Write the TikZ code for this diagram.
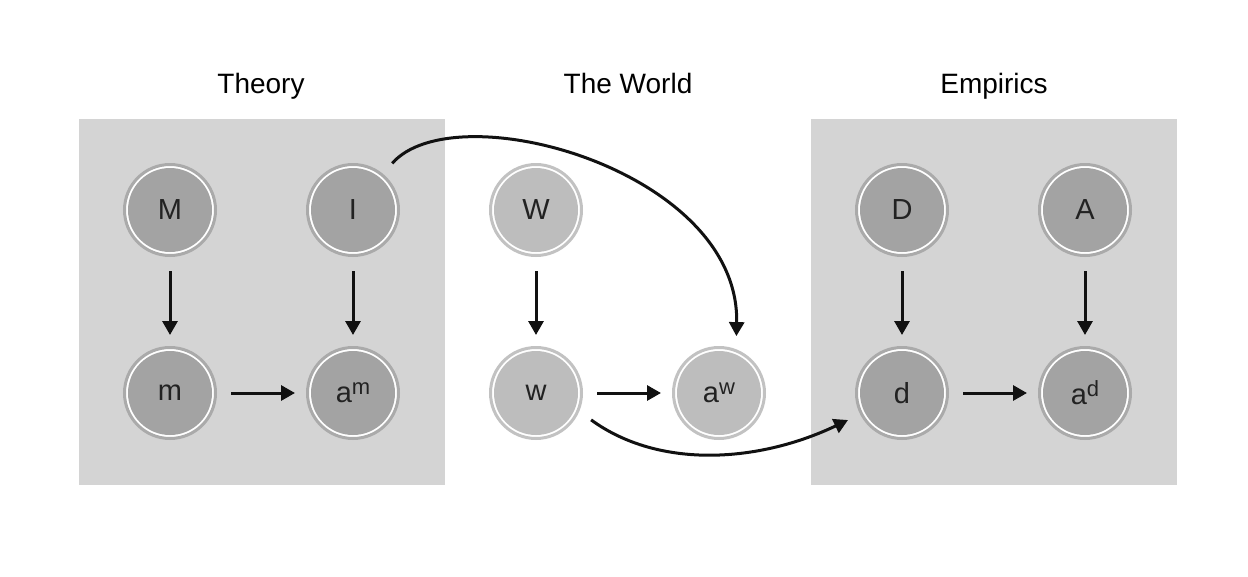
\documentclass[tikz,border=0pt]{standalone}
\usepackage{fontspec}
\setmainfont{Liberation Sans}
\usetikzlibrary{arrows.meta,calc}
\definecolor{boxgray}{HTML}{D4D4D4}
\definecolor{darkfill}{HTML}{A3A3A3}
\definecolor{darkring}{HTML}{AAAAAA}
\definecolor{lightfill}{HTML}{BDBDBD}
\definecolor{lightring}{HTML}{C2C2C2}
\definecolor{txt}{HTML}{222222}
\definecolor{arr}{HTML}{111111}
\newcommand{\supx}[1]{\raisebox{8pt}{\fontsize{22}{22}\selectfont #1}}
\tikzset{
  base/.style={circle, minimum size=91pt, inner sep=0pt, line width=3pt, fill=white,
    text=txt, font=\fontsize{29}{34}\selectfont},
  darknode/.style={base, draw=darkring,
    path picture={\fill[darkfill] (path picture bounding box.center) circle (42pt);}},
  lightnode/.style={base, draw=lightring,
    path picture={\fill[lightfill] (path picture bounding box.center) circle (42pt);}},
  title/.style={font=\fontsize{28}{34}\selectfont, text=black, anchor=base},
  conn/.style={draw=arr, line width=3pt, -{Triangle[length=14pt,width=15pt]}},
  straight/.style={conn, shorten <=14pt, shorten >=11pt},
  panel/.style={fill=boxgray, draw=none}
}
\begin{document}
\begin{tikzpicture}[x=1pt,y=-1pt]
\useasboundingbox (0,0) rectangle (1248,576);
\fill[white] (0,0) rectangle (1248,576);
\fill[panel] (79,119) rectangle (445,485);
\fill[panel] (811,119) rectangle (1177,485);

\node[title] (tTheory) at (261,93) {Theory};
\node[title] (tWorld) at (628,93) {The World};
\node[title] (tEmp) at (994,93) {Empirics};

\node[darknode] (M) at (170,210) {M};
\node[darknode] (I) at (353,210) {I};
\node[darknode] (m) at (170,393) {m};
\node[darknode] (am) at (353,393) {a\supx{m}};

\node[lightnode] (W) at (536,210) {W};
\node[lightnode] (w) at (536,393) {w};
\node[lightnode] (aw) at (719,393) {a\supx{w}};

\node[darknode] (D) at (902,210) {D};
\node[darknode] (A) at (1085,210) {A};
\node[darknode] (d) at (902,393) {d};
\node[darknode] (ad) at (1085,393) {a\supx{d}};

\draw[straight] (M) -- (m);
\draw[straight] (I) -- (am);
\draw[straight] (m) -- (am);
\draw[straight] (W) -- (w);
\draw[straight] (w) -- (aw);
\draw[straight] (D) -- (d);
\draw[straight] (A) -- (ad);
\draw[straight] (d) -- (ad);

\draw[conn] ([shift={(-50:61)}]I.center) .. controls (455,92) and (740,170) .. ([shift={(-73:59.5)}]aw.center);
\draw[conn] ([shift={(26:61.3)}]w.center) .. controls (660,470) and (760,462) .. ([shift={(153.4:60.4)}]d.center);
\end{tikzpicture}
\end{document}
